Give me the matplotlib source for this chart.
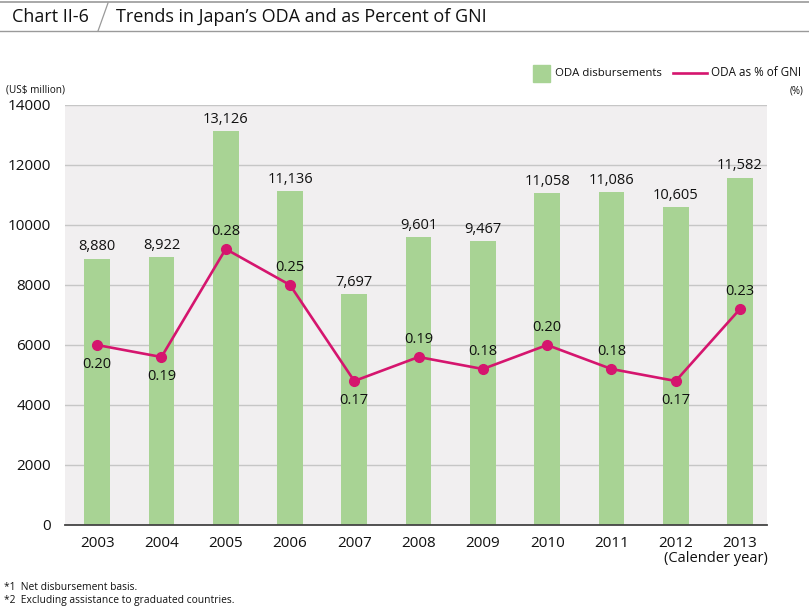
import matplotlib
matplotlib.use("Agg")
import matplotlib.pyplot as plt
from matplotlib.lines import Line2D
from matplotlib.patches import Rectangle

plt.rcParams["font.family"] = ["Open Sans", "DejaVu Sans"]

years = ["2003", "2004", "2005", "2006", "2007", "2008", "2009", "2010", "2011", "2012", "2013"]
oda = [8880, 8922, 13126, 11136, 7697, 9601, 9467, 11058, 11086, 10605, 11582]
gni_pct = [0.20, 0.19, 0.28, 0.25, 0.17, 0.19, 0.18, 0.20, 0.18, 0.17, 0.23]
pct_above = [False, False, True, True, False, True, True, True, True, False, True]

GREEN = "#a8d394"
MAGENTA = "#d5156e"
BG = "#f1eff0"
GRID = "#c6c6c6"

fig = plt.figure(figsize=(8.09, 6.08), dpi=100)
ax = fig.add_axes([65 / 809, 1 - 525 / 608, 702 / 809, 420 / 608])
ax.set_facecolor(BG)
x = list(range(len(years)))

ax.bar(x, oda, width=0.4, color=GREEN, zorder=2)
for xi, v in zip(x, oda):
    ax.annotate(f"{v:,}", (xi, v), xytext=(0, 3), textcoords="offset points",
                ha="center", va="bottom", fontsize=10.5, color="#111111")

ax.set_ylim(0, 14000)
ax.set_xlim(-0.5, 10.42)
ax.set_yticks(range(0, 14001, 2000))
ax.set_xticks(x)
ax.set_xticklabels(years)
ax.tick_params(axis="both", length=0, labelsize=11, colors="#111111")
ax.tick_params(axis="y", pad=10)
ax.tick_params(axis="x", pad=8)
ax.yaxis.grid(True, color=GRID, lw=1, zorder=1)
ax.set_axisbelow(True)
for s in ("left", "right", "top"):
    ax.spines[s].set_visible(False)
ax.spines["bottom"].set_color("#444444")
ax.spines["bottom"].set_linewidth(1.3)
ax.spines["bottom"].set_zorder(5)

# % of GNI on its own (hidden) scale
ax2 = ax.twinx()
ax2.set_ylim(0.05, 0.40)
ax2.plot(x, gni_pct, color=MAGENTA, lw=1.9, marker="o", ms=7, zorder=4)
for xi, v, up in zip(x, gni_pct, pct_above):
    ax2.annotate(f"{v:.2f}", (xi, v), xytext=(0, 7 if up else -9), textcoords="offset points",
                 ha="center", va="bottom" if up else "top", fontsize=10.5, color="#111111")
ax2.set_yticks([])
for s in ax2.spines.values():
    s.set_visible(False)

# header
fig.add_artist(Line2D([0, 1], [1 - 2 / 608, 1 - 2 / 608], color="#9a9a9a", lw=1.2))
fig.add_artist(Line2D([0, 1], [1 - 31 / 608, 1 - 31 / 608], color="#9a9a9a", lw=1.0))
fig.add_artist(Line2D([108 / 809, 98 / 809], [1 - 3 / 608, 1 - 31 / 608], color="#9a9a9a", lw=0.9))
fig.text(12 / 809, 1 - 17 / 608, "Chart II-6", fontsize=13, va="center", ha="left", color="#111111")
fig.text(116 / 809, 1 - 17 / 608, "Trends in Japan\u2019s ODA and as Percent of GNI", fontsize=13,
         va="center", ha="left", color="#111111")

# legend
fig.add_artist(Rectangle((533 / 809, 1 - 82 / 608), 17 / 809, 17 / 608, color=GREEN))
fig.text(555 / 809, 1 - 73 / 608, "ODA disbursements", fontsize=8.2, va="center", color="#111111")
fig.add_artist(Line2D([673 / 809, 707 / 809], [1 - 73 / 608, 1 - 73 / 608], color=MAGENTA, lw=1.9))
fig.text(711 / 809, 1 - 73 / 608, "ODA as % of GNI", fontsize=8.4, va="center", color="#111111")
fig.text(803 / 809, 1 - 91 / 608, "(%)", fontsize=7, va="center", ha="right", color="#111111")
fig.text(6 / 809, 1 - 90 / 608, "(US$ million)", fontsize=7.2, va="center", ha="left", color="#111111")

fig.text(768 / 809, 1 - 558 / 608, "(Calender year)", fontsize=10.5, va="center", ha="right", color="#111111")
fig.text(4 / 809, 1 - 587 / 608, "*1  Net disbursement basis.", fontsize=7.4, va="center", color="#111111")
fig.text(4 / 809, 1 - 601 / 608, "*2  Excluding assistance to graduated countries.", fontsize=7.4,
         va="center", color="#111111")

fig.savefig("out.png", dpi=100)
